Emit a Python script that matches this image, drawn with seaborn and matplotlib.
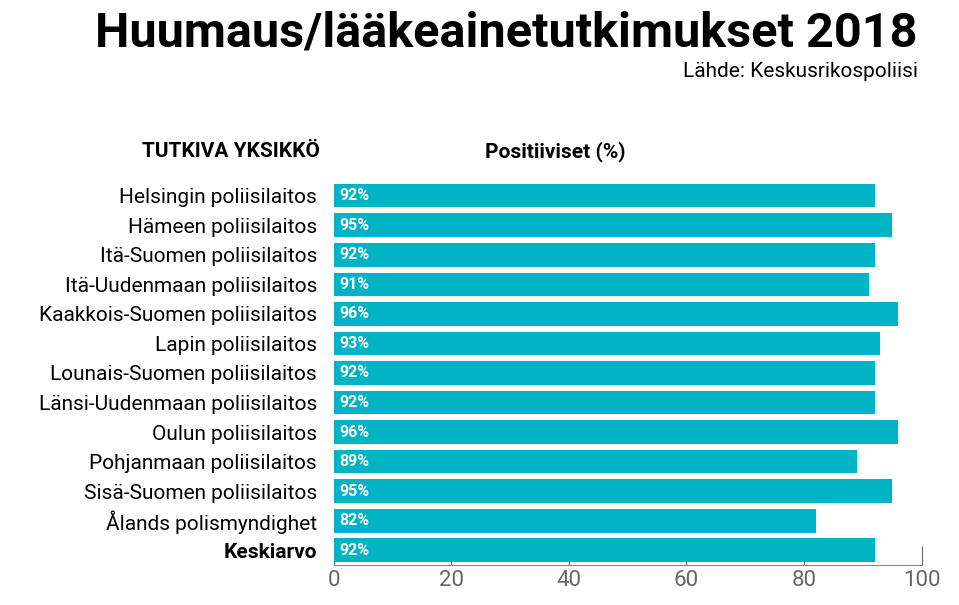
import matplotlib
matplotlib.use("Agg")
import matplotlib.pyplot as plt
import seaborn as sns
import pandas as pd

units = ["Helsingin poliisilaitos", "Hämeen poliisilaitos", "Itä-Suomen poliisilaitos",
         "Itä-Uudenmaan poliisilaitos", "Kaakkois-Suomen poliisilaitos", "Lapin poliisilaitos",
         "Lounais-Suomen poliisilaitos", "Länsi-Uudenmaan poliisilaitos", "Oulun poliisilaitos",
         "Pohjanmaan poliisilaitos", "Sisä-Suomen poliisilaitos", "Ålands polismyndighet",
         "Keskiarvo"]
positive = [92, 95, 92, 91, 96, 93, 92, 92, 96, 89, 95, 82, 92]
xticks = [0, 20, 40, 60, 80, 100]

plt.rcParams["font.family"] = "Roboto"
df = pd.DataFrame({"unit": units, "pos": positive})

fig = plt.figure(figsize=(9.59, 6.05), dpi=100)
ax = fig.add_axes([0.348, 0.066, 0.613, 0.635])
ax.set_axisbelow(True)
sns.barplot(data=df, x="pos", y="unit", color="#00b4c6", saturation=1, width=0.8, ax=ax)

for i, v in enumerate(positive):
    ax.text(1, i, f"{v}%", color="white", fontweight="bold", fontsize=11.5, va="center", ha="left")

ax.set_xlim(0, 100)
ax.set_ylim(len(units) - 0.5, -0.5)
ax.set_xticks(xticks)
ax.set_xlabel("")
ax.set_ylabel("")
for s in ["top", "left", "right"]:
    ax.spines[s].set_visible(False)
ax.spines["bottom"].set_color("#888888")
ax.tick_params(axis="x", labelsize=16, colors="#666666", length=14, direction="in")
ax.tick_params(axis="y", length=0, labelsize=15, pad=12)
labels = ax.get_yticklabels()
labels[-1].set_fontweight("bold")

fig.text(0.957, 0.945, "Huumaus/lääkeainetutkimukset 2018", ha="right", va="center",
         fontsize=35, fontweight="bold")
fig.text(0.957, 0.882, "Lähde: Keskusrikospoliisi", ha="right", va="center", fontsize=15)
fig.text(0.334, 0.749, "TUTKIVA YKSIKKÖ", ha="right", va="center", fontsize=15, fontweight="bold")
fig.text(0.579, 0.749, "Positiiviset (%)", ha="center", va="center", fontsize=15, fontweight="bold")

fig.savefig("out.png", dpi=100)
